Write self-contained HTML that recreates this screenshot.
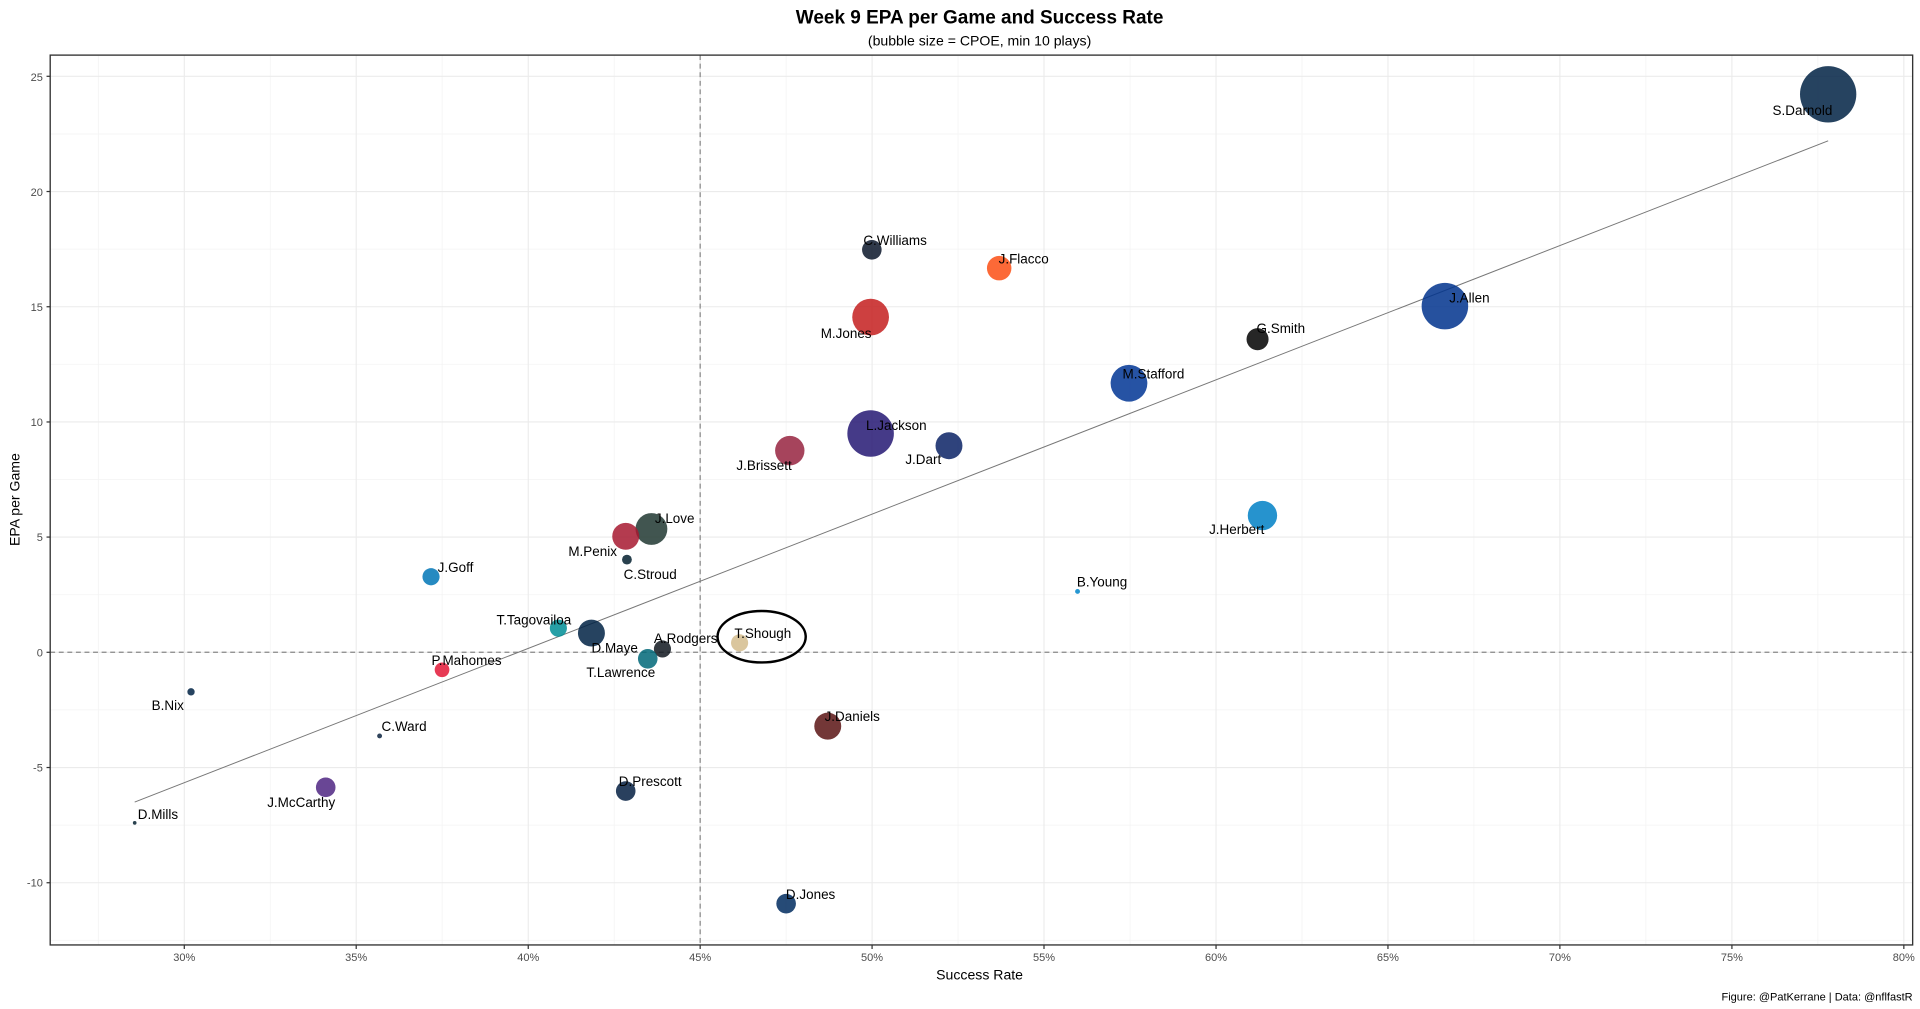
<!DOCTYPE html>
<html><head><meta charset="utf-8"><style>html,body{margin:0;padding:0;background:#fff}svg{display:block}</style></head>
<body>
<svg width="1920" height="1009" viewBox="0 0 1568 824" xmlns="http://www.w3.org/2000/svg" font-family="Liberation Sans, Arial, sans-serif">
<rect width="1568" height="824" fill="#fff"/>
<g stroke="#f3f3f3" stroke-width="0.6">
<line x1="80.3" y1="45" x2="80.3" y2="771.7"/><line x1="220.7" y1="45" x2="220.7" y2="771.7"/><line x1="361.1" y1="45" x2="361.1" y2="771.7"/><line x1="501.6" y1="45" x2="501.6" y2="771.7"/><line x1="642" y1="45" x2="642" y2="771.7"/><line x1="782.4" y1="45" x2="782.4" y2="771.7"/><line x1="922.9" y1="45" x2="922.9" y2="771.7"/><line x1="1063.3" y1="45" x2="1063.3" y2="771.7"/><line x1="1203.7" y1="45" x2="1203.7" y2="771.7"/><line x1="1344.1" y1="45" x2="1344.1" y2="771.7"/><line x1="1484.6" y1="45" x2="1484.6" y2="771.7"/>
<line x1="41" y1="767.9" x2="1562" y2="767.9"/><line x1="41" y1="673.8" x2="1562" y2="673.8"/><line x1="41" y1="579.7" x2="1562" y2="579.7"/><line x1="41" y1="485.7" x2="1562" y2="485.7"/><line x1="41" y1="391.6" x2="1562" y2="391.6"/><line x1="41" y1="297.5" x2="1562" y2="297.5"/><line x1="41" y1="203.4" x2="1562" y2="203.4"/><line x1="41" y1="109.4" x2="1562" y2="109.4"/>
</g>
<g stroke="#ebebeb" stroke-width="0.9">
<line x1="150.5" y1="45" x2="150.5" y2="771.7"/><line x1="290.9" y1="45" x2="290.9" y2="771.7"/><line x1="431.4" y1="45" x2="431.4" y2="771.7"/><line x1="571.8" y1="45" x2="571.8" y2="771.7"/><line x1="712.2" y1="45" x2="712.2" y2="771.7"/><line x1="852.6" y1="45" x2="852.6" y2="771.7"/><line x1="993.1" y1="45" x2="993.1" y2="771.7"/><line x1="1133.5" y1="45" x2="1133.5" y2="771.7"/><line x1="1273.9" y1="45" x2="1273.9" y2="771.7"/><line x1="1414.4" y1="45" x2="1414.4" y2="771.7"/><line x1="1554.8" y1="45" x2="1554.8" y2="771.7"/>
<line x1="41" y1="720.9" x2="1562" y2="720.9"/><line x1="41" y1="626.8" x2="1562" y2="626.8"/><line x1="41" y1="532.7" x2="1562" y2="532.7"/><line x1="41" y1="438.6" x2="1562" y2="438.6"/><line x1="41" y1="344.6" x2="1562" y2="344.6"/><line x1="41" y1="250.5" x2="1562" y2="250.5"/><line x1="41" y1="156.4" x2="1562" y2="156.4"/><line x1="41" y1="62.3" x2="1562" y2="62.3"/>
</g>
<g stroke="#888" stroke-width="1" stroke-dasharray="4,3">
<line x1="571.8" y1="45" x2="571.8" y2="771.7"/><line x1="41" y1="532.7" x2="1562" y2="532.7"/>
</g>
<line x1="110" y1="655" x2="1493" y2="115" stroke="#777" stroke-width="0.8"/>
<g fill-opacity="0.85">
<circle cx="1493" cy="77" r="23" fill="#002244"/>
<circle cx="1180" cy="250" r="19" fill="#00338D"/>
<circle cx="712" cy="204" r="8" fill="#0B162A"/>
<circle cx="816" cy="219" r="10" fill="#FB4F14"/>
<circle cx="711" cy="259" r="15" fill="#C41E1E"/>
<circle cx="1027" cy="277" r="9" fill="#000"/>
<circle cx="922" cy="313" r="15" fill="#003594"/>
<circle cx="711" cy="354" r="19" fill="#241773"/>
<circle cx="775" cy="364" r="11" fill="#0B2265"/>
<circle cx="645" cy="368" r="12" fill="#97233F"/>
<circle cx="1031" cy="421" r="12" fill="#0080C6"/>
<circle cx="532" cy="432" r="13" fill="#203731"/>
<circle cx="511" cy="438" r="11" fill="#A71930"/>
<circle cx="512" cy="457" r="4" fill="#03202F"/>
<circle cx="352" cy="471" r="7" fill="#0076B6"/>
<circle cx="880" cy="483" r="2" fill="#0085CA"/>
<circle cx="456" cy="513" r="7" fill="#008E97"/>
<circle cx="483" cy="517" r="11" fill="#002244"/>
<circle cx="541" cy="530" r="7" fill="#101820"/>
<circle cx="529" cy="538" r="8" fill="#006778"/>
<circle cx="604" cy="525" r="7" fill="#D3BC8D"/>
<circle cx="361" cy="547" r="6" fill="#E31837"/>
<circle cx="156" cy="565" r="3" fill="#002244"/>
<circle cx="310" cy="601" r="2" fill="#0C2340"/>
<circle cx="676" cy="593" r="11" fill="#5A1414"/>
<circle cx="266" cy="643" r="8" fill="#4F2683"/>
<circle cx="511" cy="646" r="8" fill="#041E42"/>
<circle cx="110" cy="672" r="1.5" fill="#03202F"/>
<circle cx="642" cy="738" r="8" fill="#002C5F"/>
</g>
<ellipse cx="622" cy="520" rx="36" ry="21" fill="none" stroke="#000" stroke-width="2"/>
<g font-size="11" fill="#000" text-anchor="middle">
<text x="1472" y="94">S.Darnold</text><text x="1200" y="247">J.Allen</text><text x="731" y="200">C.Williams</text><text x="836" y="215">J.Flacco</text><text x="691" y="276">M.Jones</text><text x="1046" y="272">G.Smith</text><text x="942" y="309">M.Stafford</text><text x="732" y="351">L.Jackson</text><text x="754" y="379">J.Dart</text><text x="624" y="384">J.Brissett</text><text x="1010" y="436">J.Herbert</text><text x="551" y="427">J.Love</text><text x="484" y="454">M.Penix</text><text x="531" y="473">C.Stroud</text><text x="372" y="467">J.Goff</text><text x="900" y="479">B.Young</text><text x="436" y="510">T.Tagovailoa</text><text x="502" y="533">D.Maye</text><text x="560" y="525">A.Rodgers</text><text x="507" y="553">T.Lawrence</text><text x="623" y="521">T.Shough</text><text x="381" y="543">P.Mahomes</text><text x="137" y="580">B.Nix</text><text x="330" y="597">C.Ward</text><text x="696" y="589">J.Daniels</text><text x="246" y="659">J.McCarthy</text><text x="531" y="642">D.Prescott</text><text x="129" y="669">D.Mills</text><text x="662" y="734">D.Jones</text>
</g>
<rect x="41" y="45" width="1521" height="726.7" fill="none" stroke="#333" stroke-width="1.1"/>
<g stroke="#333" stroke-width="1">
<line x1="150.5" y1="771.7" x2="150.5" y2="775"/><line x1="290.9" y1="771.7" x2="290.9" y2="775"/><line x1="431.4" y1="771.7" x2="431.4" y2="775"/><line x1="571.8" y1="771.7" x2="571.8" y2="775"/><line x1="712.2" y1="771.7" x2="712.2" y2="775"/><line x1="852.6" y1="771.7" x2="852.6" y2="775"/><line x1="993.1" y1="771.7" x2="993.1" y2="775"/><line x1="1133.5" y1="771.7" x2="1133.5" y2="775"/><line x1="1273.9" y1="771.7" x2="1273.9" y2="775"/><line x1="1414.4" y1="771.7" x2="1414.4" y2="775"/><line x1="1554.8" y1="771.7" x2="1554.8" y2="775"/>
<line x1="38" y1="720.9" x2="41" y2="720.9"/><line x1="38" y1="626.8" x2="41" y2="626.8"/><line x1="38" y1="532.7" x2="41" y2="532.7"/><line x1="38" y1="438.6" x2="41" y2="438.6"/><line x1="38" y1="344.6" x2="41" y2="344.6"/><line x1="38" y1="250.5" x2="41" y2="250.5"/><line x1="38" y1="156.4" x2="41" y2="156.4"/><line x1="38" y1="62.3" x2="41" y2="62.3"/>
</g>
<g font-size="9" fill="#4d4d4d" text-anchor="middle">
<text x="150.5" y="785">30%</text><text x="290.9" y="785">35%</text><text x="431.4" y="785">40%</text><text x="571.8" y="785">45%</text><text x="712.2" y="785">50%</text><text x="852.6" y="785">55%</text><text x="993.1" y="785">60%</text><text x="1133.5" y="785">65%</text><text x="1273.9" y="785">70%</text><text x="1414.4" y="785">75%</text><text x="1554.8" y="785">80%</text>
</g>
<g font-size="9" fill="#4d4d4d" text-anchor="end">
<text x="35" y="724">-10</text><text x="35" y="630">-5</text><text x="35" y="536">0</text><text x="35" y="442">5</text><text x="35" y="348">10</text><text x="35" y="254">15</text><text x="35" y="160">20</text><text x="35" y="66">25</text>
</g>
<text x="800" y="800" font-size="11.5" text-anchor="middle" fill="#000">Success Rate</text>
<text transform="translate(16,408) rotate(-90)" font-size="11.5" text-anchor="middle" fill="#000">EPA per Game</text>
<text x="800" y="19" font-size="15.5" font-weight="bold" text-anchor="middle" fill="#000">Week 9 EPA per Game and Success Rate</text>
<text x="800" y="37" font-size="11.5" text-anchor="middle" fill="#000">(bubble size = CPOE, min 10 plays)</text>
<text x="1562" y="817" font-size="9" text-anchor="end" fill="#000">Figure: @PatKerrane | Data: @nflfastR</text>
</svg>
</body></html>
